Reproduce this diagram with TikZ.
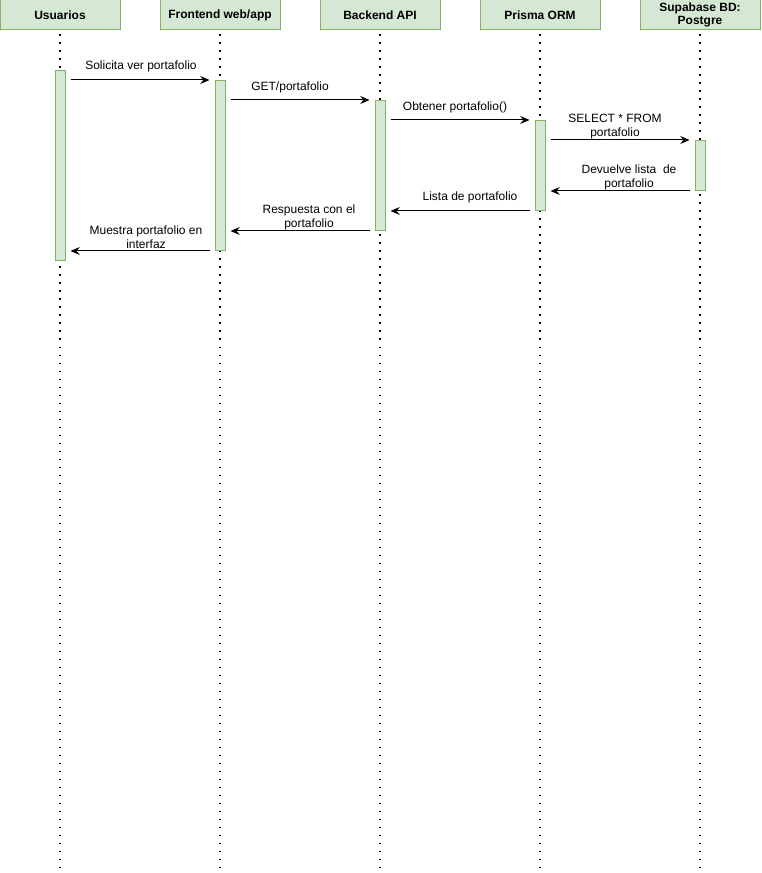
\documentclass[tikz,border=0pt]{standalone}
\usepackage{fontspec}
\setmainfont{Liberation Sans}
\usetikzlibrary{arrows.meta}
\definecolor{gfill}{HTML}{D5E8D4}
\definecolor{gdraw}{HTML}{82B366}
\begin{document}
\begin{tikzpicture}[x=0.75pt,y=-0.75pt,
  head/.style={draw=gdraw,fill=gfill,line width=0.75pt,minimum width=90pt,minimum height=22.5pt,inner sep=0pt,align=center,font=\fontsize{9}{10}\selectfont\bfseries},
  bar/.style={draw=gdraw,fill=gfill,line width=0.75pt,minimum width=7.5pt,inner sep=0pt,anchor=north},
  life/.style={line width=1.1pt,dash pattern=on 0.8pt off 5.2pt,black},
  msg/.style={-{Stealth[length=7pt,width=6pt,inset=2.5pt]},line width=0.75pt},
  lbl/.style={font=\fontsize{9}{10.5}\selectfont,align=center,inner sep=0pt}]
\useasboundingbox (0,0) rectangle (761,873);
% headers
\node[head] (hu) at (60,15) {Usuarios};
\node[head] (hf) at (220,15) {Frontend web/app};
\node[head] (hb) at (380,15) {Backend API};
\node[head] (hp) at (540,15) {Prisma ORM};
\node[head] (hs) at (700,15) {Supabase BD:\\Postgre};
% lifelines
\coordinate (eu) at (60,873);
\coordinate (ef) at (220,873);
\coordinate (eb) at (380,873);
\coordinate (ep) at (540,873);
\coordinate (es) at (700,873);
\draw[life] ([yshift=-3pt]hu.south) -- (eu);
\draw[life] ([yshift=-3pt]hf.south) -- (ef);
\draw[life] ([yshift=-3pt]hb.south) -- (eb);
\draw[life] ([yshift=-3pt]hp.south) -- (ep);
\draw[life] ([yshift=-3pt]hs.south) -- (es);
% activation bars
\node[bar,minimum height=142.5pt] (ua) at (60,70) {};
\node[bar,minimum height=127.5pt] (fa) at (220,80) {};
\node[bar,minimum height=97.5pt] (ba) at (380,100) {};
\node[bar,minimum height=67.5pt] (pa) at (540,120) {};
\node[bar,minimum height=37.5pt] (sa) at (700,140) {};
% messages
\draw[msg] ([shift={(5,10)}]ua.north east) -- ([xshift=-3.75pt]fa.north west);
\draw[msg] ([shift={(5,20)}]fa.north east) -- ([xshift=-3.75pt]ba.north west);
\draw[msg] ([shift={(5,20)}]ba.north east) -- ([xshift=-3.75pt]pa.north west);
\draw[msg] ([shift={(5,20)}]pa.north east) -- ([xshift=-3.75pt]sa.north west);
\draw[msg] ([xshift=-3.75pt]sa.south west) -- ([shift={(5,-20)}]pa.south east);
\draw[msg] ([xshift=-3.75pt]pa.south west) -- ([shift={(5,-20)}]ba.south east);
\draw[msg] ([xshift=-3.75pt]ba.south west) -- ([shift={(5,-20)}]fa.south east);
\draw[msg] ([xshift=-3.75pt]fa.south west) -- ([shift={(5,-10)}]ua.south east);
% labels
\node[lbl] (l1) at (141,66.5) {Solicita ver portafolio};
\node[lbl] (l2) at (290,87.5) {GET/portafolio};
\node[lbl] (l3) at (455,107.5) {Obtener portafolio()};
\node[lbl] (l4) at (615,127) {SELECT * FROM\\portafolio};
\node[lbl] (l5) at (629,177.5) {Devuelve lista\ \ de\\portafolio};
\node[lbl] (l6) at (470,197.5) {Lista de portafolio};
\node[lbl] (l7) at (309,217) {Respuesta con el\\portafolio};
\node[lbl] (l8) at (146,237) {Muestra portafolio en\\interfaz};
\end{tikzpicture}
\end{document}
